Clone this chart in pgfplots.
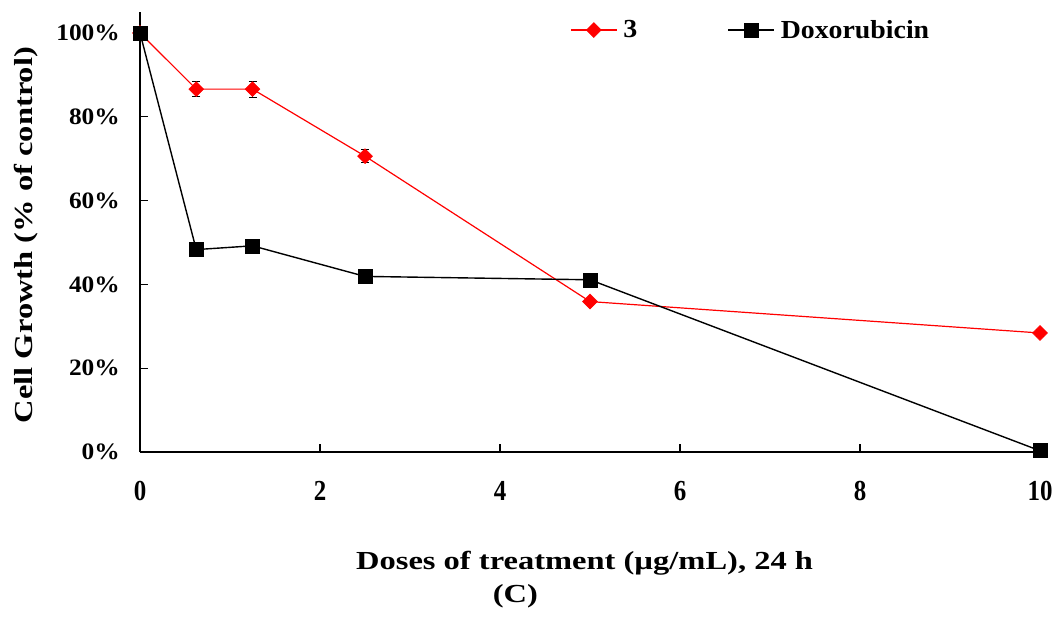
\documentclass[border=0pt]{standalone}
\usepackage{pgfplots}
\pgfplotsset{compat=1.18}
\usepackage{fontspec}
\usepackage{graphicx}
\setmainfont{Liberation Serif}
\definecolor{myred}{RGB}{255,0,0}
\newcommand{\xs}[1]{\scalebox{1.25}[1]{#1}}
\newcommand{\xt}[1]{\scalebox{0.86}[1]{#1}}
\newcommand{\yt}[1]{\scalebox{1.08}[1]{#1}}
\begin{document}
\begin{tikzpicture}
\useasboundingbox (0,0) rectangle (1055bp,628bp);
\begin{axis}[
  at={(140bp,176bp)}, anchor=south west,
  scale only axis, width=900bp, height=440bp,
  xmin=0, xmax=10, ymin=0, ymax=105,
  axis x line=bottom, axis y line=left,
  axis line style={line width=1.6bp, -},
  tick style={line width=1.3bp, black},
  tick align=inside, major tick length=8bp,
  xtick={0,2,4,6,8,10},
  xticklabels={\xt{0},\xt{2},\xt{4},\xt{6},\xt{8},\xt{10}},
  ytick={0,20,40,60,80,100},
  yticklabels={\yt{0\%},\yt{20\%},\yt{40\%},\yt{60\%},\yt{80\%},\yt{100\%}},
  yticklabel style={font=\fontsize{23.5bp}{28bp}\selectfont\bfseries, anchor=east, inner sep=0pt, xshift=-20bp},
  xticklabel style={font=\fontsize{29bp}{32bp}\selectfont\bfseries, anchor=north, inner sep=0pt, yshift=-29bp},
  xlabel={\xs{Doses of treatment (µg/mL), 24 h}},
  ylabel={\xs{Cell Growth (\% of control)}},
  xlabel style={font=\fontsize{26bp}{30bp}\selectfont\bfseries, at={(axis description cs:0.494,-0.252)}, anchor=center},
  ylabel style={font=\fontsize{26bp}{30bp}\selectfont\bfseries, at={(axis description cs:-0.126,0.493)}, anchor=center, rotate=0},
  clip=false,
  legend columns=2,
  legend style={at={(axis description cs:0.4745,0.959)}, anchor=west, draw=none, fill=none,
    font=\fontsize{26bp}{30bp}\selectfont\bfseries,
    nodes={inner sep=0pt, anchor=west},
    /tikz/every odd column/.append style={column sep=6bp},
    /tikz/every even column/.append style={column sep=90bp}},
  legend image code/.code={
    \draw[#1, mark repeat=2, mark phase=2] plot coordinates {(0bp,0bp) (23bp,0bp) (46bp,0bp)};
  },
]
\addplot[myred, line width=1.2bp, mark=square*, mark size=5.3bp, mark options={rotate=45, fill=myred, draw=myred, line width=0.5bp},
  error bars/.cd, y dir=both, y explicit,
  error bar style={black, line width=1bp},
  error mark options={black, rotate=90, mark size=4bp, line width=1bp}]
  coordinates {
  (0,100) +- (0,0)
  (0.625,86.6) +- (0,1.8)
  (1.25,86.6) +- (0,1.9)
  (2.5,70.6) +- (0,1.6)
  (5,35.9) +- (0,0.8)
  (10,28.4) +- (0,0.8)
  };
\addlegendentry{\xt{\scalebox{1.25}[1]{3}}}
\addplot[black, line width=1.4bp, mark=square*, mark size=7bp, mark options={fill=black, line width=0.5bp}]
  coordinates {
  (0,100)
  (0.625,48.3)
  (1.25,49.2)
  (2.5,41.9)
  (5,41.1)
  (10,0.3)
  };
\addlegendentry{\scalebox{1.07}[1]{Doxorubicin}}
\node[font=\fontsize{26bp}{30bp}\selectfont\bfseries] at (axis description cs:0.417,-0.327) {\xs{(C)}};
\end{axis}
\end{tikzpicture}
\end{document}
